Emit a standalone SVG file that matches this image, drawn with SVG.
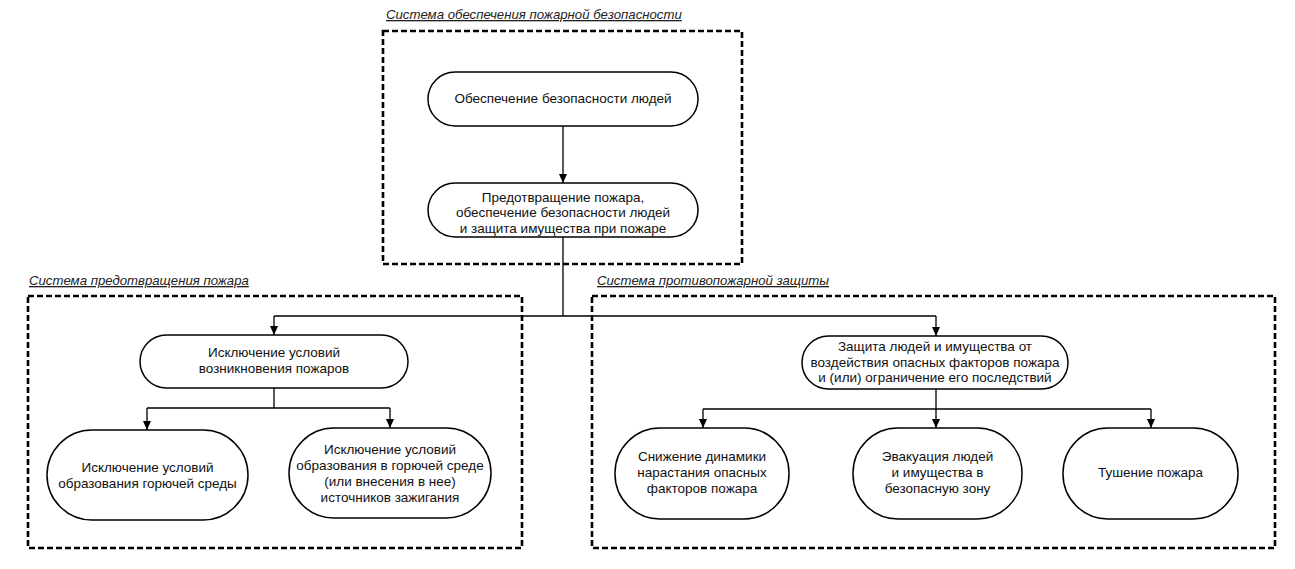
<svg xmlns="http://www.w3.org/2000/svg" width="1295" height="569" viewBox="0 0 1295 569">
<style>
.frame{fill:none;stroke:#000;stroke-width:2.6;stroke-dasharray:6 3}
.node rect{fill:#fff;stroke:#000;stroke-width:1.5}
.node text{font-family:"Liberation Sans",Arial,sans-serif;font-size:13.5px;fill:#111;text-anchor:middle}
.title{font-family:"Liberation Sans",Arial,sans-serif;font-size:13.2px;font-style:italic;fill:#222;text-decoration:underline}
.conn path{fill:none;stroke:#000;stroke-width:1.3}
</style>
<defs>
<marker id="arr" markerUnits="userSpaceOnUse" markerWidth="8" markerHeight="9" refX="4" refY="9" orient="0" viewBox="0 0 8 9">
<path d="M0,0 L8,0 L4,9 z" fill="#000"/>
</marker>
</defs>
<rect width="1295" height="569" fill="#fff"/>

<g id="frames">
<rect class="frame" x="383" y="31" width="359" height="233"/>
<rect class="frame" x="28" y="296" width="494" height="252"/>
<rect class="frame" x="592" y="296" width="683" height="252"/>
<text class="title" x="386" y="19">Система обеспечения пожарной безопасности</text>
<text class="title" x="29" y="285">Система предотвращения пожара</text>
<text class="title" x="597" y="285">Система противопожарной защиты</text>
</g>

<g class="conn" id="connectors">
<path d="M563,126 V183" marker-end="url(#arr)"/>
<path d="M563,237 V316"/>
<path d="M274,316 H936"/>
<path d="M274,316 V335" marker-end="url(#arr)"/>
<path d="M936,316 V336" marker-end="url(#arr)"/>
<path d="M274,388 V408"/>
<path d="M147,408 H390"/>
<path d="M147,408 V430" marker-end="url(#arr)"/>
<path d="M390,408 V428" marker-end="url(#arr)"/>
<path d="M936,389 V409"/>
<path d="M703,409 H1151"/>
<path d="M703,409 V428" marker-end="url(#arr)"/>
<path d="M936,409 V428" marker-end="url(#arr)"/>
<path d="M1151,409 V428" marker-end="url(#arr)"/>
</g>

<g class="node" id="n1">
<rect x="428" y="72" width="270" height="54" rx="27"/>
<text x="563" y="103">Обеспечение безопасности людей</text>
</g>
<g class="node" id="n2">
<rect x="428" y="183" width="270" height="54" rx="27"/>
<text x="563" y="201.5">Предотвращение пожара,</text>
<text x="563" y="217">обеспечение безопасности людей</text>
<text x="563" y="232.5">и защита имущества при пожаре</text>
</g>
<g class="node" id="n3">
<rect x="140" y="335" width="268" height="53" rx="26.5"/>
<text x="274" y="357">Исключение условий</text>
<text x="274" y="373">возникновения пожаров</text>
</g>
<g class="node" id="n4">
<rect x="47" y="430" width="201" height="90" rx="45"/>
<text x="147.5" y="472">Исключение условий</text>
<text x="147.5" y="488">образования горючей среды</text>
</g>
<g class="node" id="n5">
<rect x="289" y="428" width="202" height="90" rx="45"/>
<text x="390" y="454">Исключение условий</text>
<text x="390" y="470">образования в горючей среде</text>
<text x="390" y="486">(или внесения в нее)</text>
<text x="390" y="502">источников зажигания</text>
</g>
<g class="node" id="n6">
<rect x="802" y="336" width="266" height="53" rx="26.5"/>
<text x="935" y="351">Защита людей и имущества от</text>
<text x="935" y="366.5">воздействия опасных факторов пожара</text>
<text x="935" y="382">и (или) ограничение его последствий</text>
</g>
<g class="node" id="n7">
<rect x="615" y="428" width="174" height="91" rx="45"/>
<text x="702" y="461">Снижение динамики</text>
<text x="702" y="477">нарастания опасных</text>
<text x="702" y="493">факторов пожара</text>
</g>
<g class="node" id="n8">
<rect x="853" y="428" width="169" height="91" rx="45"/>
<text x="937.5" y="461">Эвакуация людей</text>
<text x="937.5" y="477">и имущества в</text>
<text x="937.5" y="493">безопасную зону</text>
</g>
<g class="node" id="n9">
<rect x="1063" y="428" width="175" height="91" rx="45"/>
<text x="1150.5" y="477">Тушение пожара</text>
</g>
</svg>
